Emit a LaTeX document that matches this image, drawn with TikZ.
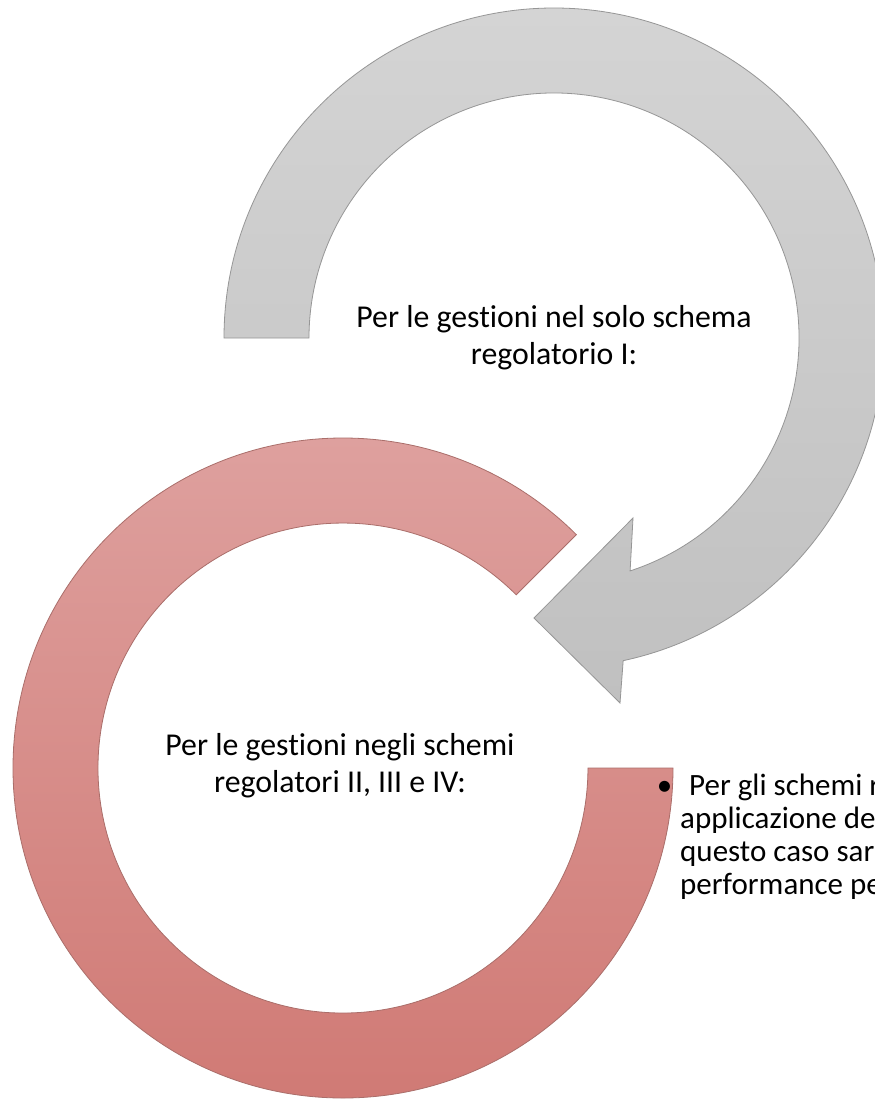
\documentclass[tikz,border=0pt]{standalone}
\usepackage{fontspec}
\setmainfont[Ligatures=NoCommon]{Carlito}
\definecolor{greytop}{RGB}{212,212,212}
\definecolor{greybot}{RGB}{192,192,192}
\definecolor{greyline}{RGB}{150,150,150}
\definecolor{redtop}{RGB}{222,160,158}
\definecolor{redbot}{RGB}{208,122,117}
\definecolor{redline}{RGB}{170,110,106}
\tikzset{
  greyband/.style={top color=greytop, bottom color=greybot, draw=greyline, line width=0.8pt, line join=miter},
  redband/.style={top color=redtop, bottom color=redbot, draw=redline, line width=0.8pt},
  label/.style={font=\fontsize{31.8}{37}\selectfont, align=center, inner sep=0pt},
  bullettext/.style={font=\fontsize{31}{33}\selectfont, align=left, inner sep=0pt, anchor=north west}
}
\begin{document}
\begin{tikzpicture}[x=1pt,y=-1pt]
\useasboundingbox (0,0) rectangle (875,1100);
\clip (0,0) rectangle (875,1100);
\fill[white] (0,0) rectangle (875,1100);

% grey circular arrow, centre (554,338)
\coordinate (gc) at (554,338);
\draw[greyband] (224,338) arc[start angle=180, end angle=437.9, radius=330]
  -- (620,703) -- (534,618) -- (633,518)
  -- (630.1,570.9) arc[start angle=431.9, end angle=180, radius=245] -- cycle;

% red open ring, centre (343,768)
\coordinate (rc) at (343,768);
\draw[redband] (673,768) arc[start angle=0, end angle=315, radius=330]
  -- (516.2,594.8) arc[start angle=315, end angle=0, radius=245] -- cycle;

\node[label] (t1) at (554,338) {Per le gestioni nel solo schema\\regolatorio I:};
\node[label] (t2) at (340,766) {Per le gestioni negli schemi\\regolatori II, III e IV:};
\node[bullettext] (t3) at (680,774) {\llap{\textbullet\hspace{8pt}}\hspace{9pt}Per gli schemi r\\applicazione de\\questo caso sar\\performance pe};
\end{tikzpicture}
\end{document}
